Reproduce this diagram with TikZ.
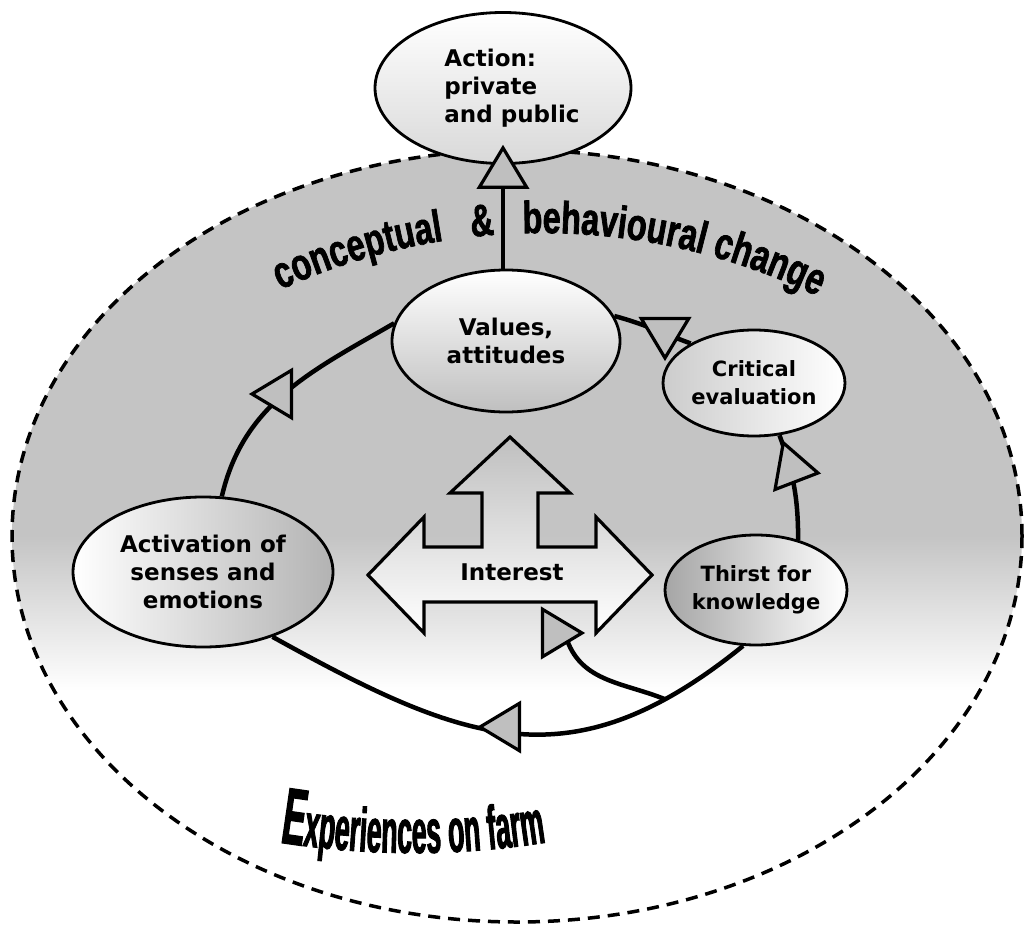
\documentclass[tikz,border=0pt]{standalone}
\usepackage{fontspec}
\setmainfont{DejaVu Sans}
\newfontfamily\archfont[FakeStretch=0.72, FakeBold=1.5]{Liberation Sans}
\newfontfamily\farmfont[FakeStretch=0.43, FakeBold=1.5]{Liberation Sans}
\usetikzlibrary{shapes.geometric,decorations.text}
\pgfdeclareverticalshading{farmfade}{100bp}{color(0bp)=(white); color(40bp)=(white); color(50bp)=(black!23); color(100bp)=(black!23)}
\newcommand{\tri}[2]{\filldraw[tri] (#1) -- +(#2+149:46) -- +(#2-149:46) -- cycle;}
\begin{document}
\begin{tikzpicture}[
    x=1pt, y=1pt,
    box/.style={ellipse, draw, line width=2.8pt, inner sep=0pt, align=center, font=\fontsize{23}{28}\selectfont\bfseries},
    small/.style={font=\fontsize{21}{28}\selectfont\bfseries},
    cyc/.style={line width=4.5pt},
    tri/.style={line width=3.2pt, fill=black!25, line join=miter}
    ]
\useasboundingbox (0,0) rectangle (1025,-925);
\shade[shading=farmfade] (517,-536) ellipse [x radius=505, y radius=386];
\draw[line width=3.5pt, dash pattern=on 12pt off 8pt] (517,-536) ellipse [x radius=505, y radius=386];
\path[decorate, decoration={text along path, text align=left,
    text={|\archfont\bfseries\fontsize{45}{45}\selectfont|conceptual{\hspace{28pt}}{\&}{\hspace{28pt}}behavioural change}}]
    (542,-864) ++(114.5:631) arc[start angle=114.5, end angle=61, radius=631];
\path[decorate, decoration={text along path, text align=center,
    text={|\farmfont\bfseries\fontsize{80}{80}\selectfont|E|\farmfont\bfseries\fontsize{62}{62}\selectfont|xperiences on farm}}]
    (413,-3) ++(-99.5:850) arc[start angle=-99.5, end angle=-80.5, radius=850];
\draw[line width=3.2pt, line join=miter, top color=black!25, bottom color=white]
    (510,-437) -- (570,-493) -- (538,-493) -- (538,-547) -- (596,-547) -- (596,-517)
    -- (652,-575) -- (596,-633) -- (596,-602) -- (424,-602) -- (424,-633) -- (368,-575)
    -- (424,-517) -- (424,-547) -- (482,-547) -- (482,-493) -- (450,-493) -- cycle;
\node[font=\fontsize{23}{28}\selectfont\bfseries] (interest) at (512,-572) {Interest};
\node[box, align=left, minimum width=256pt, minimum height=151pt, top color=white, bottom color=black!15] (action) at (503,-88) {\hspace*{18pt}Action:\\\hspace*{18pt}private\\\hspace*{18pt}and public};
\node[box, minimum width=228pt, minimum height=142pt, top color=white, bottom color=black!25] (values) at (506,-341) {Values,\\attitudes};
\node[box, minimum width=260pt, minimum height=150pt, left color=white, right color=black!30] (senses) at (203,-572) {Activation of\\senses and\\emotions};
\node[box, small, minimum width=182pt, minimum height=106pt, left color=black!20, right color=white] (critical) at (754,-383) {Critical\\evaluation};
\node[box, small, minimum width=182pt, minimum height=110pt, left color=black!35, right color=white] (thirst) at (756,-590) {Thirst for\\knowledge};
\draw[cyc] (senses.76) to[out=77, in=210] (values.171);
\draw[cyc] (values.13) to[out=-15, in=160] (critical.148);
\draw[cyc] (critical.-64) to[out=-70, in=90] (thirst.50);
\draw[cyc] (thirst.-103) to[out=-141, in=-29, looseness=1.2] coordinate[pos=0.16] (split) (senses.-43);
\coordinate (hook) at (567,-640);
\draw[cyc] (split) to[out=158, in=-70] (hook);
\draw[line width=4pt] (values.north -| action) -- ([yshift=17pt]action.south);
\tri{[yshift=17pt]action.south}{90}
\tri{252,-394}{180}
\tri{665,-358}{-90}
\tri{818,-473}{-10}
\tri{582,-633}{0}
\tri{480,-727}{180}
\end{tikzpicture}
\end{document}
